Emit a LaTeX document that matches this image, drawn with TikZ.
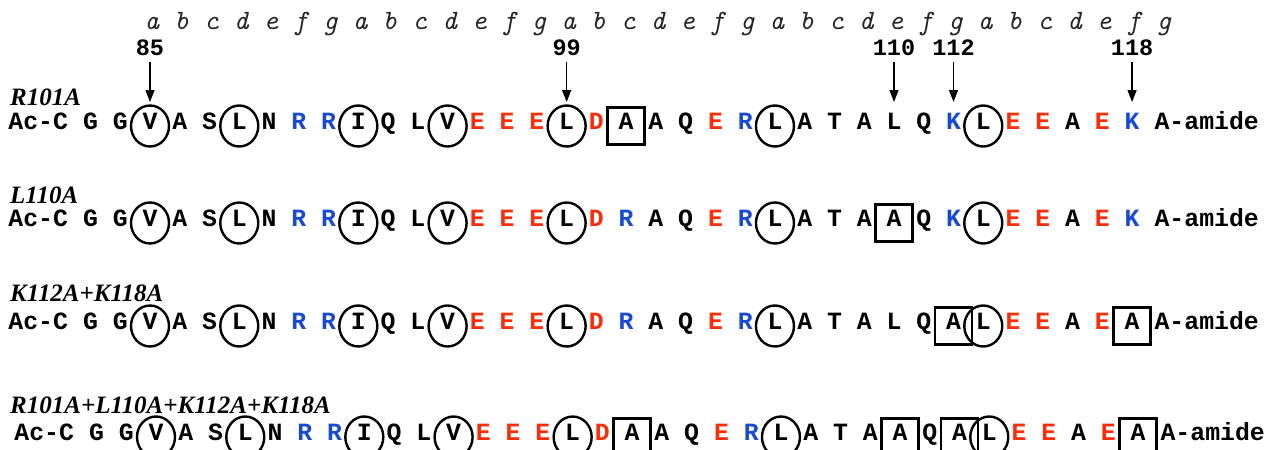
\documentclass[tikz,border=0pt]{standalone}
\usepackage{fontspec}
\usetikzlibrary{arrows.meta,shapes.geometric}
\newfontfamily\monofam{Liberation Mono}
\newfontfamily\seriffam{Liberation Serif}
\definecolor{seqK}{RGB}{0,0,0}
\definecolor{seqR}{RGB}{250,45,10}
\definecolor{seqB}{RGB}{25,75,210}
\tikzset{
  res/.style={font=\monofam\bfseries\fontsize{24.8}{28}\selectfont, inner sep=0pt, text height=0.6em, text depth=0pt, anchor=center},
  hept/.style={font=\ttfamily\itshape\fontsize{28}{30}\selectfont, inner sep=0pt, text=black!85, anchor=base},
  num/.style={font=\monofam\bfseries\fontsize{23.5}{28}\selectfont, inner sep=0pt, text height=0.6em, text depth=0pt},
  rowlab/.style={font=\seriffam\bfseries\itshape\fontsize{25}{30}\selectfont, inner sep=0pt, anchor=base west},
  circ/.style={draw, ellipse, minimum width=38pt, minimum height=41pt, line width=2.4pt, inner sep=0pt},
  mutbox/.style={draw, rectangle, minimum width=37pt, minimum height=37pt, line width=2.4pt, inner sep=0pt},
  arr/.style={line width=1.3pt, -{Triangle[width=9pt,length=12pt]}, shorten <=7pt}
}
\newcommand\seqrow[4]{%
  \node[res, anchor=east] (#1-ac) at ({#3+150-3*29.76+7.44}, #2) {Ac-C};
  \node[res] (#1-83) at ({#3+150-2*29.76}, #2) {G};
  \node[res] (#1-84) at ({#3+150-1*29.76}, #2) {G};
  \foreach \n/\l/\c/\s in {85/V/K/c,86/A/K/x,87/S/K/x,88/L/K/c,89/N/K/x,90/R/B/x,91/R/B/x,92/I/K/c,93/Q/K/x,94/L/K/x,95/V/K/c,96/E/R/x,97/E/R/x,98/E/R/x,99/L/K/c,100/D/R/x,101/R/B/x,102/A/K/x,103/Q/K/x,104/E/R/x,105/R/B/x,106/L/K/c,107/A/K/x,108/T/K/x,109/A/K/x,110/L/K/x,111/Q/K/x,112/K/B/x,113/L/K/c,114/E/R/x,115/E/R/x,116/A/K/x,117/E/R/x,118/K/B/x}{%
    \gdef\curmut{0}%
    \foreach \m in {#4}{\ifnum\n=\m\relax\gdef\curmut{1}\fi}%
    \ifnum\curmut=1\relax
      \node[res] (#1-\n) at ({#3+150+(\n-85)*29.76}, #2) {A};
      \node[mutbox] (#1-b\n) at (#1-\n) {};
    \else
      \node[res, text=seq\c] (#1-\n) at ({#3+150+(\n-85)*29.76}, #2) {\l};
      \if\s c\node[circ] (#1-c\n) at (#1-\n) {};\fi
    \fi
  }
  \node[res, anchor=west] (#1-amide) at ({#3+150+34*29.76-7.44}, #2) {A-amide};
}
\begin{document}
\begin{tikzpicture}[x=1pt,y=-1pt]
\useasboundingbox (0,0) rectangle (1267,450);
\clip (0,0) rectangle (1267,450);
% heptad letters
\foreach \l [count=\i from 0] in {a,b,c,d,e,f,g,a,b,c,d,e,f,g,a,b,c,d,e,f,g,a,b,c,d,e,f,g,a,b,c,d,e,f,g}{
  \node[hept] (h\i) at ({152+\i*29.76}, 29) {\l};
}
% residue numbers and arrows
\foreach \n in {85,99,110,112,118}{
  \node[num] (n\n) at ({150+(\n-85)*29.76}, 52) {\n};
  \coordinate (t\n) at ({150+(\n-85)*29.76}, 102);
  \draw[arr] (n\n) -- (t\n);
}
% rows
\node[rowlab] (lab1) at (10,105) {R101A};
\seqrow{r1}{126}{0}{101}
\node[rowlab] (lab2) at (10,203) {L110A};
\seqrow{r2}{223}{0}{110}
\node[rowlab] (lab3) at (10,301) {K112A+K118A};
\seqrow{r3}{326}{0}{112,118}
\node[rowlab] (lab4) at (10,413) {R101A+L110A+K112A+K118A};
\seqrow{r4}{437}{6}{101,110,112,118}
\end{tikzpicture}
\end{document}
